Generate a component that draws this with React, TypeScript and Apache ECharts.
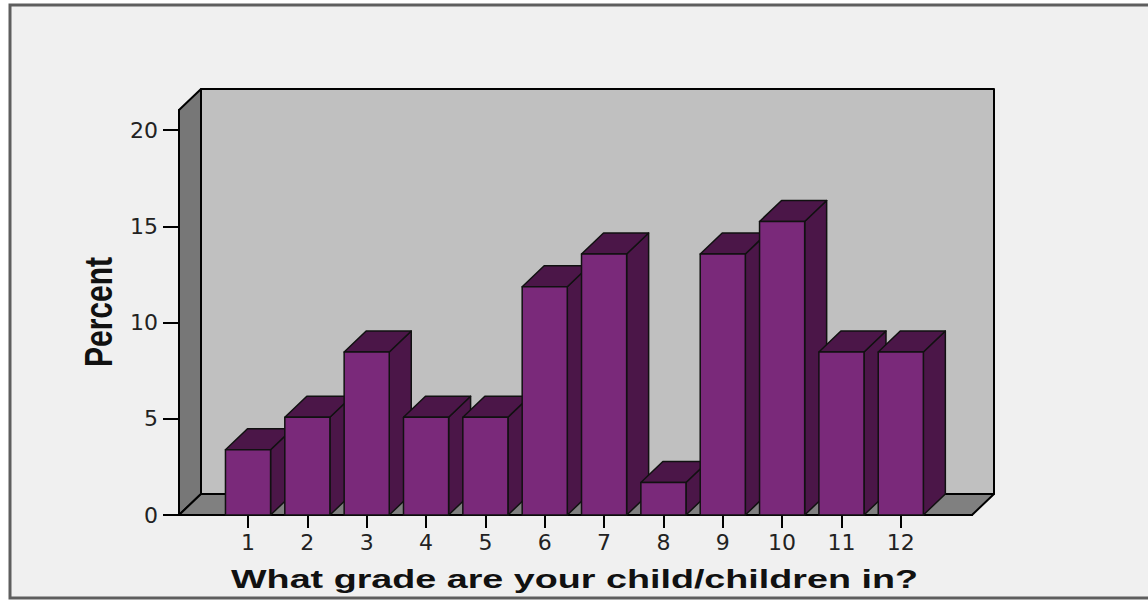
import React, { useEffect, useRef } from 'react';
import * as echarts from 'echarts';

// ---- data ----
const grades = ['1', '2', '3', '4', '5', '6', '7', '8', '9', '10', '11', '12'];
const gradePositions = [1, 2, 3, 4, 5, 6, 7, 8, 9, 10, 11, 12];
const percents = [3.39, 5.08, 8.47, 5.08, 5.08, 11.86, 13.56, 1.69, 13.56, 15.25, 8.47, 8.47];
const percentTicks = [0, 5, 10, 15, 20];
const xTitle = 'What grade are your child/children in?';
const yTitle = 'Percent';

// ---- geometry/style constants ----
const DX = 22;
const DY = -21;
const X_MIN = -0.163;
const X_MAX = 13.2;
const Y_MAX = 21.04;
const BAR_W = 0.76;

const FRONT = '#7a297a';
const DARK = '#4b1648';

export default function App() {
  const ref = useRef<HTMLDivElement>(null);

  useEffect(() => {
    const chart = echarts.init(ref.current as HTMLDivElement, null, { renderer: 'svg' });

    const wallsRender = (params: any, api: any) => {
      const p0 = api.coord([X_MIN, 0]);
      const p1 = api.coord([X_MAX, Y_MAX]);
      const x0 = p0[0], y0 = p0[1], x1 = p1[0], yT = p1[1];
      const stroke = { stroke: '#000', lineWidth: 2, lineJoin: 'round' };
      return {
        type: 'group',
        children: [
          {
            type: 'rect',
            shape: { x: x0 + DX, y: yT + DY, width: x1 - x0, height: y0 - yT },
            style: { fill: '#c0c0c0', ...stroke },
          },
          {
            type: 'polygon',
            shape: { points: [[x0, y0], [x0, yT], [x0 + DX, yT + DY], [x0 + DX, y0 + DY]] },
            style: { fill: '#777777', ...stroke },
          },
          {
            type: 'polygon',
            shape: { points: [[x0, y0], [x1, y0], [x1 + DX, y0 + DY], [x0 + DX, y0 + DY]] },
            style: { fill: '#808080', ...stroke },
          },
        ],
      };
    };

    const barsRender = (params: any, api: any) => {
      const x = api.value(0);
      const v = api.value(1);
      const lt = api.coord([x - BAR_W / 2, v]);
      const rb = api.coord([x + BAR_W / 2, 0]);
      const xl = lt[0], yt = lt[1], xr = rb[0], yb = rb[1];
      const stroke = { stroke: '#111', lineWidth: 1.5, lineJoin: 'round' };
      return {
        type: 'group',
        children: [
          {
            type: 'polygon',
            shape: { points: [[xr, yt], [xr + DX, yt + DY], [xr + DX, yb + DY], [xr, yb]] },
            style: { fill: DARK, ...stroke },
          },
          {
            type: 'polygon',
            shape: { points: [[xl, yt], [xr, yt], [xr + DX, yt + DY], [xl + DX, yt + DY]] },
            style: { fill: DARK, ...stroke },
          },
          {
            type: 'rect',
            shape: { x: xl, y: yt, width: xr - xl, height: yb - yt },
            style: { fill: FRONT, ...stroke },
          },
        ],
      };
    };

    const axisText = { fontFamily: 'DejaVu Sans', fontSize: 22, color: '#222' };

    const option: any = {
      animation: false,
      backgroundColor: '#ffffff',
      grid: { left: 179, top: 110, width: 793, height: 405, containLabel: false },
      xAxis: {
        type: 'value',
        min: X_MIN,
        max: X_MAX,
        splitLine: { show: false },
        axisLine: { show: true, onZero: false, lineStyle: { color: '#000', width: 2 } },
        axisTick: { show: true, customValues: gradePositions, length: 13, lineStyle: { color: '#000', width: 2 } },
        axisLabel: {
          customValues: gradePositions,
          formatter: (v: number) => grades[Math.round(v) - 1] ?? '',
          margin: 16,
          ...axisText,
        },
      },
      yAxis: {
        type: 'value',
        min: 0,
        max: Y_MAX,
        splitLine: { show: false },
        axisLine: { show: true, onZero: false, lineStyle: { color: '#000', width: 2 } },
        axisTick: { show: true, customValues: percentTicks, length: 16, lineStyle: { color: '#000', width: 2 } },
        axisLabel: { customValues: percentTicks, margin: 21, ...axisText },
      },
      graphic: [
        {
          type: 'rect',
          z: -100,
          silent: true,
          shape: { x: 10, y: 5, width: 1150, height: 593 },
          style: { fill: '#f0f0f0', stroke: '#5e5e5e', lineWidth: 3 },
        },
        {
          type: 'text',
          x: 574.5,
          y: 579,
          scaleX: 1.45,
          silent: true,
          style: {
            text: xTitle,
            font: 'bold 26px "Liberation Sans", Arial, sans-serif',
            fill: '#111',
            align: 'center',
            verticalAlign: 'middle',
            textAlign: 'center',
            textVerticalAlign: 'middle',
          },
        },
        {
          type: 'text',
          x: 99,
          y: 312,
          rotation: Math.PI / 2,
          scaleY: 1.3,
          silent: true,
          style: {
            text: yTitle,
            font: 'bold 30px "Liberation Sans", Arial, sans-serif',
            fill: '#111',
            align: 'center',
            verticalAlign: 'middle',
            textAlign: 'center',
            textVerticalAlign: 'middle',
          },
        },
      ],
      series: [
        {
          type: 'custom',
          name: 'walls',
          silent: true,
          clip: false,
          renderItem: wallsRender,
          data: [[X_MIN, 0]],
          z: 1,
        },
        {
          type: 'custom',
          name: 'Percent',
          clip: false,
          renderItem: barsRender,
          data: gradePositions.map((g, i) => [g, percents[i]]),
          z: 2,
        },
      ],
    };

    chart.setOption(option);
    return () => chart.dispose();
  }, []);

  return (
    <div
      ref={ref}
      style={{ position: 'fixed', left: 0, top: 0, width: 1148, height: 601 }}
    />
  );
}
